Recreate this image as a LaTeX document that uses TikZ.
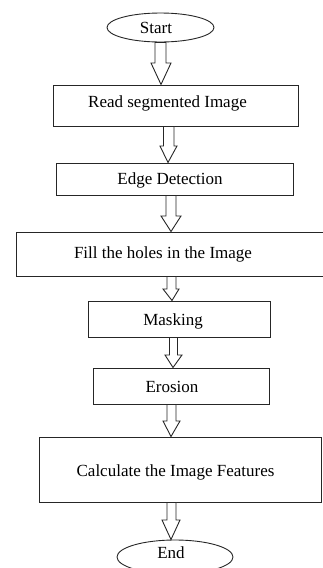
\documentclass[tikz,border=0pt]{standalone}
\usepackage{fontspec}
\setmainfont{Liberation Serif}
\usetikzlibrary{shapes.geometric,calc}
\tikzset{
  box/.style={draw=black!85, line width=1pt, rectangle, inner sep=0pt},
  oval/.style={draw=black!85, line width=0.9pt, ellipse, inner sep=0pt},
  lbl/.style={anchor=base, inner sep=0pt, font=\fontsize{17}{20}\selectfont},
  barrowst/.style={draw=black!85, line width=0.9pt, fill=white, line join=miter}
}
\newcommand\barrow[8]{%
  \draw[barrowst] let \p1=(#1.south), \p2=(#2.north), \p3=(0,#7) in
  (#3pt,\y1) -- (#3pt,\y3) -- (#5pt,\y3) -- (#8pt,\y2) -- (#6pt,\y3) -- (#4pt,\y3) -- (#4pt,\y1) -- cycle;}
\begin{document}
\begin{tikzpicture}[x=1pt,y=-1pt]
\useasboundingbox (0,0) rectangle (322,568);
% shapes
\node[oval, minimum width=107pt, minimum height=29pt] (start) at (160.5,27.5) {};
\node[box, minimum width=245pt, minimum height=41pt] (b1) at (175.5,105.5) {};
\node[box, minimum width=237pt, minimum height=32pt] (b2) at (174.5,179) {};
\node[box, minimum width=324pt, minimum height=44pt] (b3) at (178,254) {};
\node[box, minimum width=182pt, minimum height=36pt] (b4) at (179,319) {};
\node[box, minimum width=176pt, minimum height=36pt] (b5) at (181,386) {};
\node[box, minimum width=282pt, minimum height=65pt] (b6) at (180,469.5) {};
\node[oval, minimum width=116pt, minimum height=34pt] (end) at (175,557) {};
% labels
\node[lbl] (tstart) at (156,33) {Start};
\node[lbl] (t1) at (167.5,107) {Read segmented Image};
\node[lbl] (t2) at (170,184) {Edge Detection};
\node[lbl] (t3) at (163,258) {Fill the holes in the Image};
\node[lbl] (t4) at (173,325) {Masking};
\node[lbl] (t5) at (172,392) {Erosion};
\node[lbl] (t6) at (175.5,476) {Calculate the Image Features};
\node[lbl] (tend) at (171,558) {End};
% block arrows
\barrow{start}{b1}{155}{166}{151}{171}{63}{161}
\barrow{b1}{b2}{163.5}{174}{160}{177}{146}{168}
\barrow{b2}{b3}{166}{176}{161}{181}{216}{171}
\barrow{b3}{b4}{167}{176}{163}{179}{289}{172}
\barrow{b4}{b5}{169.5}{177.5}{165}{182}{355}{173}
\barrow{b5}{b6}{167}{176}{163}{180}{421}{171}
\barrow{b6}{end}{167}{176}{162}{180}{520}{171}
\end{tikzpicture}
\end{document}
